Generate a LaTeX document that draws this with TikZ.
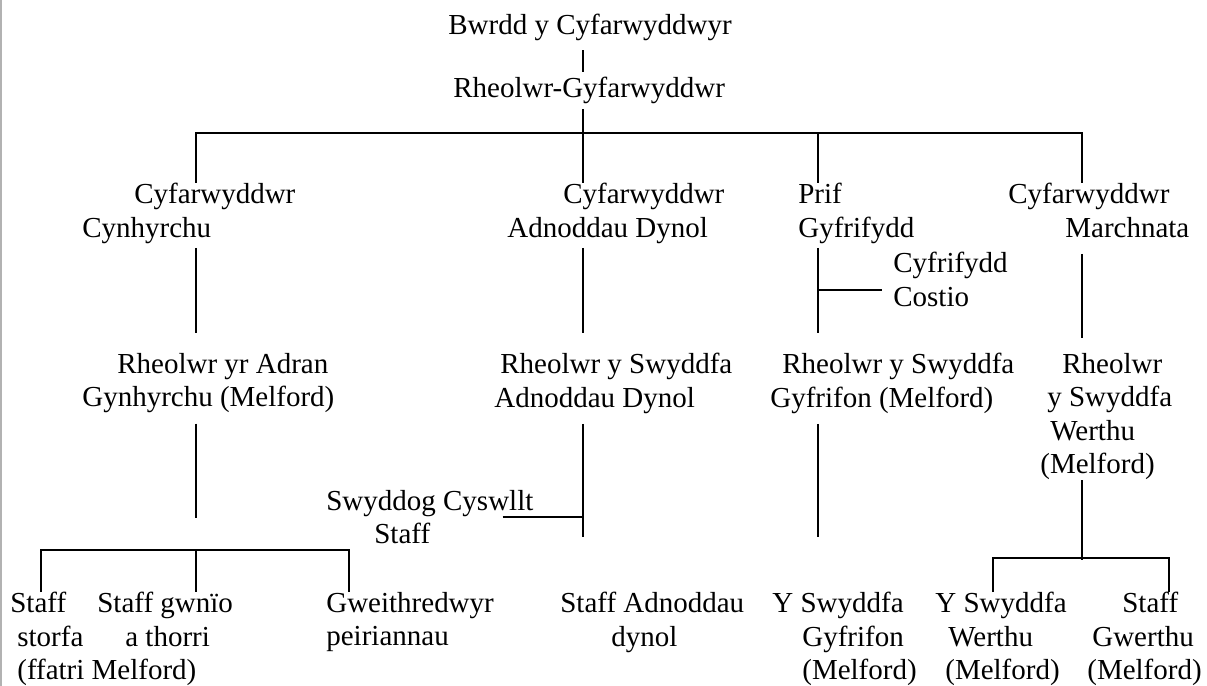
\documentclass[tikz,border=0pt]{standalone}
\usepackage{fontspec}
\setmainfont{Liberation Serif}

\begin{document}
\begin{tikzpicture}[%
      role/.style={%
        inner sep = 0pt,
        anchor    = north west,
        align     = left,
        font      = \fontsize{16.5}{19.06}\selectfont,
      },
      link/.style={%
        draw       = black,
        line width = 1.1pt,
      }
      ]

      \useasboundingbox (0,0) rectangle (24.14,-13.72);
      \draw[gray!60, line width=0.04cm] (0.02,0) -- (0.02,-13.72);

      % columns of the chart
      \coordinate (c1) at (3.92,-2.66);
      \coordinate (c2) at (11.66,-2.66);
      \coordinate (c3) at (16.36,-2.66);
      \coordinate (c4) at (21.64,-2.66);
      \coordinate (s1l) at (0.82,-11.00);
      \coordinate (s1r) at (6.98,-11.00);
      \coordinate (s2l) at (19.86,-11.16);
      \coordinate (s2r) at (23.38,-11.16);

      \node[role] (board) at (8.96,-0.28) {Bwrdd y Cyfarwyddwyr};
      \node[role] (md) at (9.06,-1.54) {Rheolwr-Gyfarwyddwr};

      \node[role] (prod) at (1.64,-3.66) {\hspace*{1.04cm}Cyfarwyddwr\\Cynhyrchu};
      \node[role] (hr) at (10.14,-3.66) {\hspace*{1.12cm}Cyfarwyddwr\\Adnoddau Dynol};
      \node[role] (acct) at (15.96,-3.66) {Prif\\Gyfrifydd};
      \node[role] (mkt) at (20.16,-3.66) {Cyfarwyddwr\\\hspace*{1.14cm}Marchnata};
      \node[role] (cost) at (17.86,-5.04) {Cyfrifydd\\Costio};

      \node[role] (prodmgr) at (1.64,-7.06) {\hspace*{0.70cm}Rheolwr yr Adran\\Gynhyrchu (Melford)};
      \node[role] (hrmgr) at (9.88,-7.06) {\hspace*{0.12cm}Rheolwr y Swyddfa\\Adnoddau Dynol};
      \node[role] (acctmgr) at (15.40,-7.06) {\hspace*{0.24cm}Rheolwr y Swyddfa\\Gyfrifon (Melford)};
      \node[role] (mktmgr) at (20.80,-7.06) {\hspace*{0.44cm}Rheolwr\\\hspace*{0.14cm}y Swyddfa\\\hspace*{0.20cm}Werthu\\(Melford)};
      \node[role] (liaison) at (6.52,-9.80) {Swyddog Cyswllt\\\hspace*{0.96cm}Staff};

      \node[role] (store) at (0.20,-11.84) {Staff\\\hspace*{0.14cm}storfa\\\hspace*{0.14cm}(ffatri Melford)};
      \node[role] (sew) at (1.94,-11.84) {Staff gwnïo\\\hspace*{0.56cm}a thorri};
      \node[role] (machine) at (6.52,-11.84) {Gweithredwyr\\peiriannau};
      \node[role] (hrstaff) at (11.20,-11.84) {Staff Adnoddau\\\hspace*{1.02cm}dynol};
      \node[role] (acctoffice) at (15.44,-11.84) {Y Swyddfa\\\hspace*{0.60cm}Gyfrifon\\\hspace*{0.60cm}(Melford)};
      \node[role] (salesoffice) at (18.70,-11.84) {Y Swyddfa\\\hspace*{0.26cm}Werthu\\\hspace*{0.20cm}(Melford)};
      \node[role] (salesstaff) at (21.74,-11.84) {\hspace*{0.70cm}Staff\\\hspace*{0.10cm}Gwerthu\\(Melford)};

      % top of the tree
      \draw[link, shorten <=0.18cm, shorten >=0.10cm] (board.south -| c2) -- (md.north -| c2);
      \draw[link, shorten <=0.10cm] (md.south -| c2) -- (hr.north -| c2);
      \draw[link] (c1 |- prod.north) -- (c1) -- (c4) -- (c4 |- mkt.north);
      \draw[link] (c3) -- (c3 |- acct.north);

      % directors to managers
      \draw[link, shorten <=0.08cm, shorten >=0.40cm] (c1 |- prod.south) -- (c1 |- prodmgr.north);
      \draw[link, shorten <=0.08cm, shorten >=0.40cm] (c2 |- hr.south) -- (c2 |- hrmgr.north);
      \draw[link, shorten <=0.08cm, shorten >=0.40cm] (c3 |- acct.south) -- (c3 |- acctmgr.north);
      \draw[link, shorten <=0.32cm, shorten >=0.30cm] (c4 |- mkt.south) -- (c4 |- mktmgr.north);
      \draw[link, shorten >=0.22cm] (c3 |- cost.190) -- (cost.190);

      % managers to staff
      \draw[link, shorten <=0.20cm, shorten >=0.64cm] (c1 |- prodmgr.south) -- (c1 |- s1l);
      \draw[link] (s1l |- store.north) -- (s1l) -- (s1r) -- (s1r |- machine.north);
      \draw[link] (c1 |- s1l) -- (c1 |- sew.north);
      \draw[link, shorten <=0.20cm, shorten >=1.10cm] (c2 |- hrmgr.south) -- (c2 |- hrstaff.north);
      \draw[link] ([xshift=-0.62cm]liaison.east) -- (c2 |- liaison.east);
      \draw[link, shorten <=0.20cm, shorten >=1.10cm] (c3 |- acctmgr.south) -- (c3 |- acctoffice.north);
      \draw[link, shorten >=-0.04cm] (c4 |- mktmgr.south) -- (c4 |- s2l);
      \draw[link] (s2l |- salesoffice.north) -- (s2l) -- (s2r) -- (s2r |- salesstaff.north);

    \end{tikzpicture}
\end{document}
